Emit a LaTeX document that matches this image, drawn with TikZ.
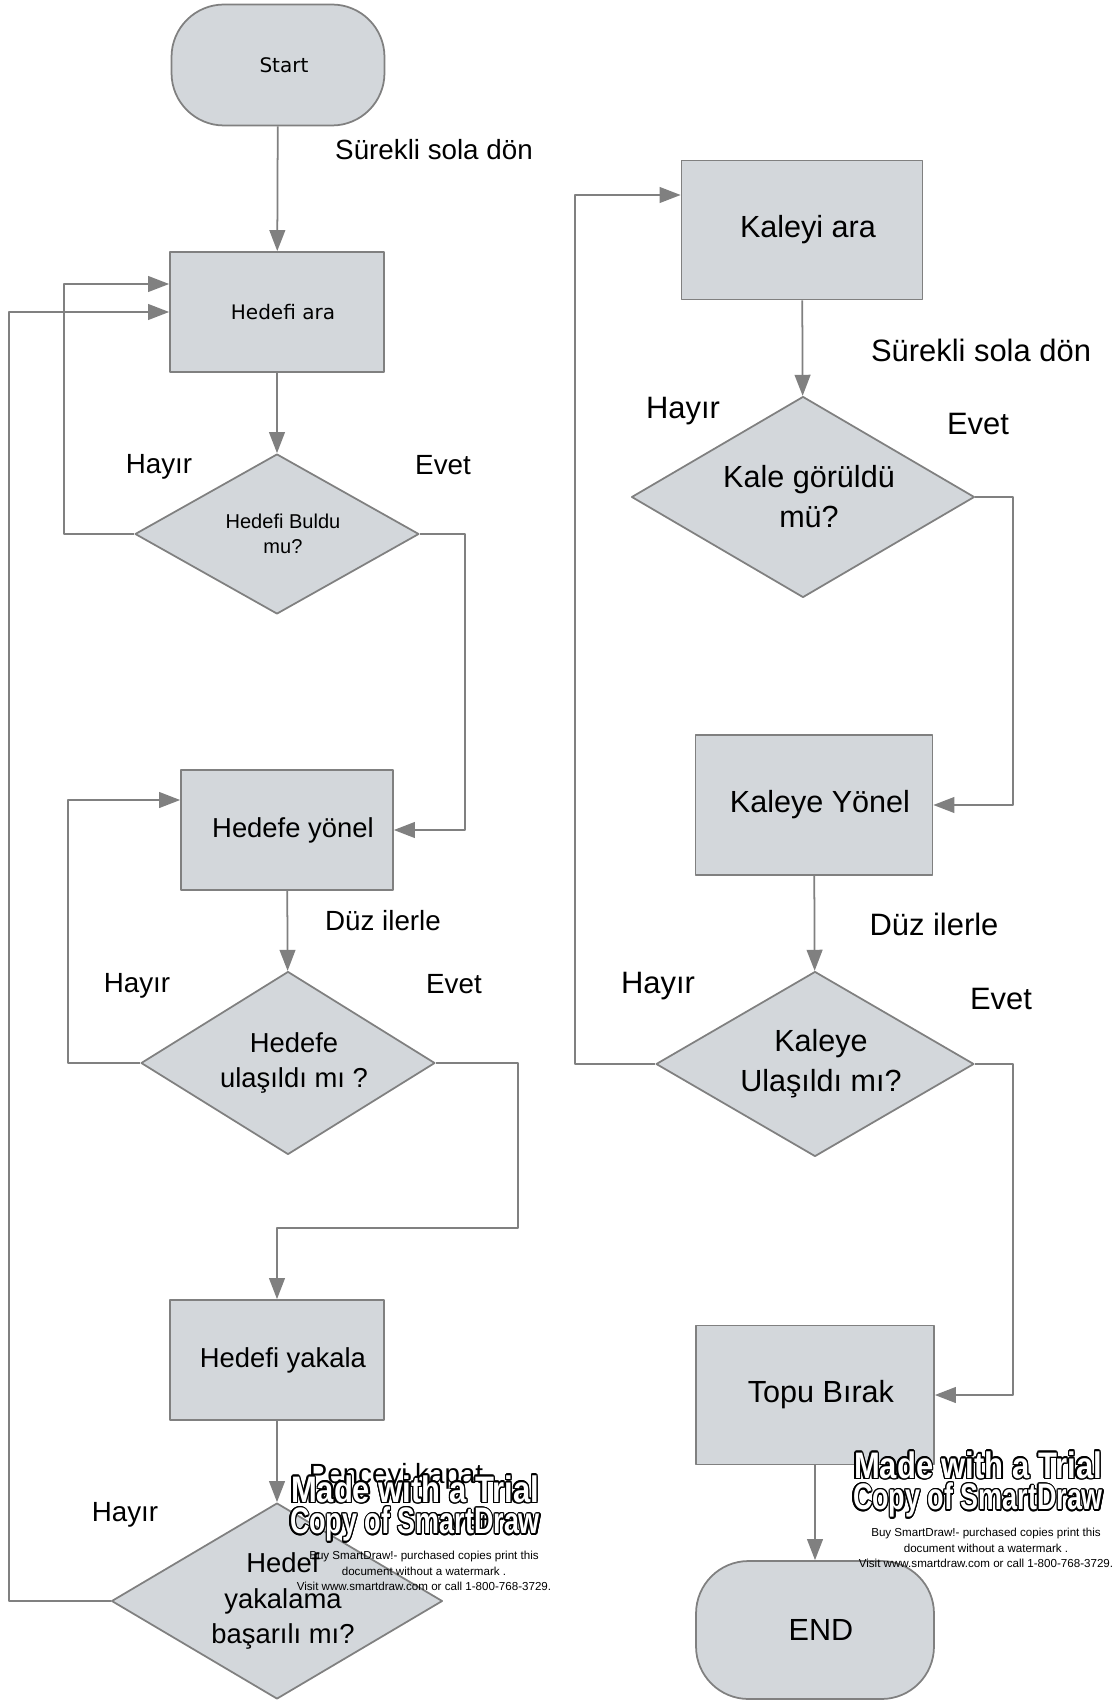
\documentclass[tikz,border=0pt]{standalone}
\usepackage{fontspec}
\setmainfont{Liberation Sans}
\newfontfamily\tahoma{DejaVu Sans}
\newfontfamily\wmfont{Liberation Sans}
\usepackage{contour}
\contourlength{0.9pt}
\usetikzlibrary{shapes.geometric,arrows.meta}
\definecolor{boxgray}{RGB}{211,215,219}
\definecolor{linegray}{RGB}{128,128,128}
\newcommand\wmtext[2]{\scalebox{#1}[1]{\contour{black}{\textcolor{white}{#2}}}}
\newcommand\sh{\kern6.8pt}
\begin{document}
\begin{tikzpicture}[x=0.02cm, y=-0.02cm, line join=round, >={Triangle[length=12pt,width=9pt]},
 every node/.style={inner sep=0pt, align=center},
 procbox/.style={draw=linegray, fill=boxgray, line width=1pt, font=\fontsize{15.6}{20}\selectfont},
 rbox/.style={procbox, font=\fontsize{17.4}{22.8}\selectfont},
 termbox/.style={rounded corners=1.05cm},
 decbox/.style={procbox, diamond},
 smallbox/.style={font=\tahoma\fontsize{11.4}{14}\selectfont},
 lab/.style={font=\fontsize{15.8}{19}\selectfont},
 rlab/.style={font=\fontsize{17.6}{21}\selectfont},
 wmbig/.style={font=\wmfont\bfseries\fontsize{21}{24}\selectfont},
 wmsmall/.style={font=\fontsize{6.6}{8.8}\selectfont},
 flowline/.style={draw=linegray, line width=1pt, ->}]
\useasboundingbox (0,0) rectangle (1116,1702);
% left column
\node[procbox, termbox, smallbox, minimum width=4.26cm, minimum height=2.42cm] (start) at (278,65) {\sh Start};
\node[procbox, smallbox, minimum width=4.28cm, minimum height=2.4cm] (ara) at (277,312) {\sh Hedefi ara};
\node[decbox, aspect=1.775, minimum width=5.68cm, minimum height=3.2cm, font=\fontsize{11.4}{14}\selectfont] (buldu) at (277,534) {\sh Hedefi Buldu\\\sh mu?};
\node[procbox, minimum width=4.24cm, minimum height=2.4cm] (yonel) at (287,830) {\sh Hedefe yönel};
\node[decbox, aspect=1.6, minimum width=5.88cm, minimum height=3.66cm] (ulas) at (288,1063) {\sh Hedefe\\\sh ulaşıldı mı ?};
\node[procbox, minimum width=4.28cm, minimum height=2.4cm] (yakala) at (277,1360) {\sh Hedefi yakala};
\node[decbox, aspect=1.69, minimum width=6.62cm, minimum height=3.92cm] (basari) at (277,1601) {\sh Hedef\\\sh yakalama\\\sh başarılı mı?};
% right column
\node[rbox, minimum width=4.82cm, minimum height=2.78cm] (kara) at (802,230) {\sh Kaleyi ara};
\node[rbox, diamond, aspect=1.7, minimum width=6.86cm, minimum height=4.02cm] (gorul) at (803,497) {\sh Kale görüldü\\\sh mü?};
\node[rbox, minimum width=4.74cm, minimum height=2.8cm] (kyonel) at (814,805) {\sh Kaleye Yönel};
\node[rbox, diamond, aspect=1.72, minimum width=6.36cm, minimum height=3.7cm] (kulas) at (815,1064) {\sh Kaleye\\\sh Ulaşıldı mı?};
\node[rbox, minimum width=4.76cm, minimum height=2.78cm] (topu) at (815,1395) {\sh Topu Bırak};
\node[rbox, termbox, minimum width=4.76cm, minimum height=2.76cm] (son) at (815,1630) {\sh END};
% connectors
\draw[flowline] (start) -- (ara);
\draw[flowline] (ara) -- (buldu);
\draw[flowline] (buldu.west) -- (64,534) |- ([yshift=0.56cm]ara.west);
\draw[flowline] (basari.west) -- (9,1601) |- (ara.west);
\draw[flowline] (buldu.east) -- (465,534) |- (yonel.east);
\draw[flowline] (yonel) -- (ulas);
\draw[flowline] (ulas.west) -- (68,1063) |- ([yshift=0.6cm]yonel.west);
\draw[flowline] (ulas.east) -- (518,1063) -- (518,1228) -| (yakala.north);
\draw[flowline] (yakala) -- (basari);
\draw[flowline] (kara) -- (gorul);
\draw[flowline] (gorul.east) -- (1013,497) |- (kyonel.east);
\draw[flowline] (kyonel) -- (kulas);
\draw[flowline] (kulas.west) -- (575,1064) |- ([yshift=0.7cm]kara.west);
\draw[flowline] (kulas.east) -- (1013,1064) |- (topu.east);
\draw[flowline] (topu) -- (son);
% labels
\node[lab] (surek1) at (434,150) {Sürekli sola dön};
\node[lab] (hayir1) at (159,467) {Hayır};
\node[lab] (evet1) at (443,465) {Evet};
\node[lab] (duz1) at (383,921) {Düz ilerle};
\node[lab] (hayir2) at (137,986) {Hayır};
\node[lab] (evet2) at (454,984) {Evet};
\node[lab] (hayir3) at (125,1515) {Hayır};
\node[lab] (kapat) at (396,1476) {Pençeyi kapat};
\node[lab] (evet3) at (460,1524) {Evet};
\node[rlab] (surek2) at (981,350) {Sürekli sola dön};
\node[rlab] (hayir4) at (683,411) {Hayır};
\node[rlab] (evet4) at (978,424) {Evet};
\node[rlab] (duz2) at (934,924) {Düz ilerle};
\node[rlab] (hayir5) at (658,986) {Hayır};
\node[rlab] (evet5) at (1001,999) {Evet};
% watermark
\node[wmbig] (wm1) at (415,1490) {\wmtext{0.84}{Made with a Trial}};
\node[wmbig] (wm2) at (415,1525) {\wmtext{0.73}{Copy of SmartDraw}};
\node[wmsmall] (wm3) at (424,1571) {Buy SmartDraw!- purchased copies print this\\document without a watermark .\\Visit www.smartdraw.com or call 1-800-768-3729.};
\node[wmbig] (wm4) at (978,1466) {\wmtext{0.84}{Made with a Trial}};
\node[wmbig] (wm5) at (978,1501) {\wmtext{0.73}{Copy of SmartDraw}};
\node[wmsmall] (wm6) at (986,1548) {Buy SmartDraw!- purchased copies print this\\document without a watermark .\\Visit www.smartdraw.com or call 1-800-768-3729.};
\end{tikzpicture}
\end{document}
